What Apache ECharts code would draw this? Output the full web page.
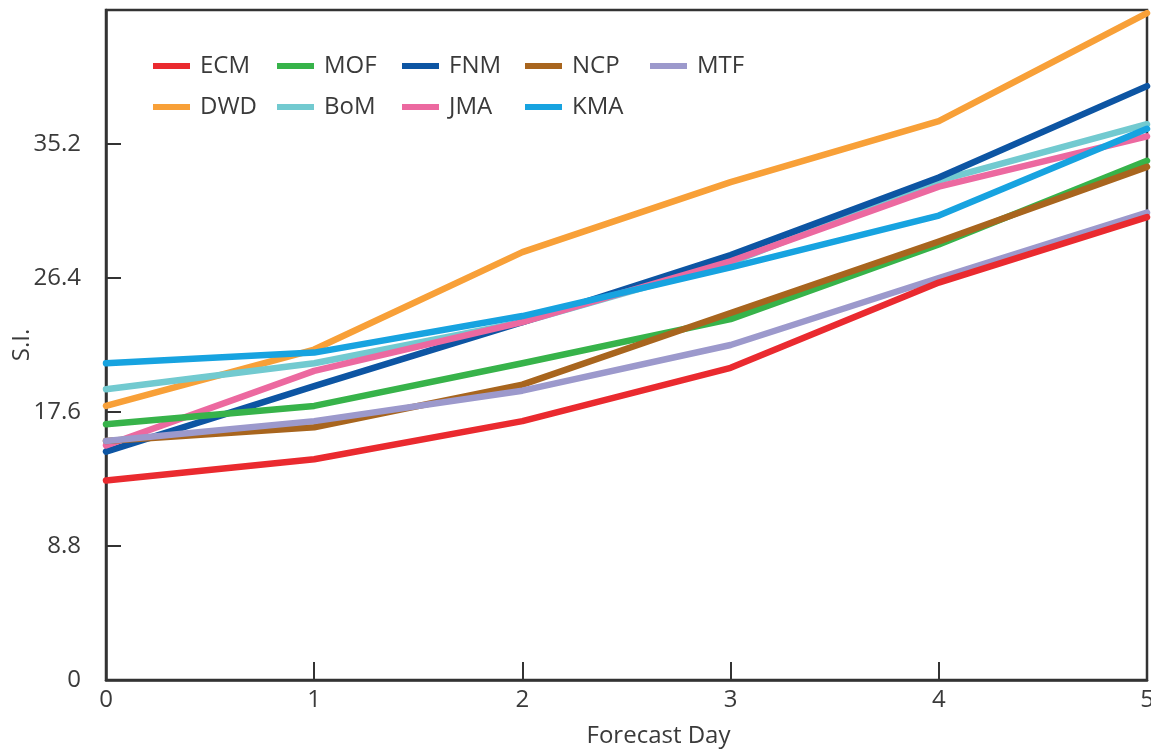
<!DOCTYPE html>
<html>
<head>
<meta charset="utf-8">
<script src="https://cdn.jsdelivr.net/npm/echarts@6/dist/echarts.min.js"></script>
<style>
  html, body { margin: 0; padding: 0; background: #fff; }
  #chart { width: 1151px; height: 750px; }
</style>
</head>
<body>
<div id="chart"></div>
<script>
// Forecast days on the x axis
const days = [0, 1, 2, 3, 4, 5];
const yTicks = [0, 8.8, 17.6, 26.4, 35.2];

// S.I. per model and forecast day
const ECM = [13.1, 14.5, 17.0, 20.5, 26.1, 30.4];
const MOF = [16.8, 18.0, 20.8, 23.7, 28.6, 34.1];
const FNM = [15.0, 19.3, 23.5, 27.9, 33.0, 39.0];
const NCP = [15.7, 16.6, 19.4, 24.1, 28.8, 33.7];
const MTF = [15.7, 17.0, 19.0, 22.0, 26.4, 30.7];
const DWD = [18.0, 21.7, 28.1, 32.7, 36.7, 43.8];
const BoM = [19.1, 20.8, 23.5, 27.4, 32.8, 36.5];
const JMA = [15.4, 20.3, 23.5, 27.5, 32.4, 35.7];
const KMA = [20.8, 21.5, 23.9, 27.1, 30.5, 36.2];

const colors = {
  ECM: '#ea2a2f', MOF: '#37b34a', FNM: '#0d55a3', NCP: '#a8651e', MTF: '#9c99cc',
  DWD: '#f8a038', BoM: '#72cad0', JMA: '#ec69a0', KMA: '#17a3e0'
};
const values = { ECM, MOF, FNM, NCP, MTF, DWD, BoM, JMA, KMA };

// stacking order: later entries are drawn on top
const drawOrder = ['DWD', 'BoM', 'FNM', 'JMA', 'KMA', 'MOF', 'NCP', 'MTF', 'ECM'];
// legend laid out as columns of two rows
const legendColumns = [['ECM', 'DWD'], ['MOF', 'BoM'], ['FNM', 'JMA'], ['NCP', 'KMA'], ['MTF']];
const legendColumnX = [153, 277, 402, 525, 650];

const FONT = '"Open Sans", "Noto Sans", sans-serif';
const AXIS = '#333333';
const TEXT = '#3a3a3a';

const series = drawOrder.map((name, i) => ({
  name,
  type: 'line',
  data: days.map((d, k) => [d, values[name][k]]),
  showSymbol: false,
  symbol: 'none',
  z: 2 + i,
  color: colors[name],
  lineStyle: { width: 6.5, color: colors[name], cap: 'round', join: 'round' },
  emphasis: { disabled: true },
  animation: false
}));

const legends = legendColumns.map((col, i) => ({
  orient: 'vertical',
  icon: 'rect',
  itemWidth: 37,
  itemHeight: 6,
  itemGap: 17,
  padding: 0,
  left: legendColumnX[i],
  top: 54,
  selectedMode: false,
  data: col,
  textStyle: { fontFamily: FONT, fontSize: 24, lineHeight: 24, color: TEXT, padding: [0, 0, 0, 5] }
}));

const chart = echarts.init(document.getElementById('chart'), null, { renderer: 'canvas' });
chart.setOption({
  backgroundColor: '#fff',
  animation: false,
  grid: {
    left: 106, right: 4, top: 10, bottom: 70,
    outerBoundsMode: 'none',
    containLabel: false,
    show: true, borderColor: AXIS, borderWidth: 2.5, backgroundColor: 'transparent'
  },
  legend: legends,
  xAxis: {
    type: 'value',
    min: 0, max: 5, interval: 1,
    name: 'Forecast Day',
    nameLocation: 'middle',
    nameGap: 44,
    nameMoveOverlap: false,
    nameTextStyle: { fontFamily: FONT, fontSize: 24, color: TEXT, padding: [0, 0, 0, 64] },
    axisLine: { show: true, lineStyle: { color: AXIS, width: 2.5 } },
    axisTick: { show: true, inside: true, length: 18, lineStyle: { color: AXIS, width: 2 } },
    axisLabel: { fontFamily: FONT, fontSize: 24, color: TEXT, margin: 8 },
    splitLine: { show: false }
  },
  yAxis: {
    type: 'value',
    min: 0, max: 44, interval: 8.8,
    name: 'S.I.',
    nameLocation: 'middle',
    nameGap: 72,
    nameMoveOverlap: false,
    nameRotate: 90,
    nameTextStyle: { fontFamily: FONT, fontSize: 24, color: TEXT },
    axisLine: { show: true, lineStyle: { color: AXIS, width: 2.5 } },
    axisTick: { show: true, inside: true, length: 15, lineStyle: { color: AXIS, width: 2 } },
    axisLabel: {
      fontFamily: FONT, fontSize: 24, color: TEXT, margin: 25,
      formatter: v => (yTicks.some(t => Math.abs(t - v) < 1e-6) ? (v === 0 ? '0' : v.toFixed(1)) : '')
    },
    splitLine: { show: false }
  },
  series
});
</script>
</body>
</html>
